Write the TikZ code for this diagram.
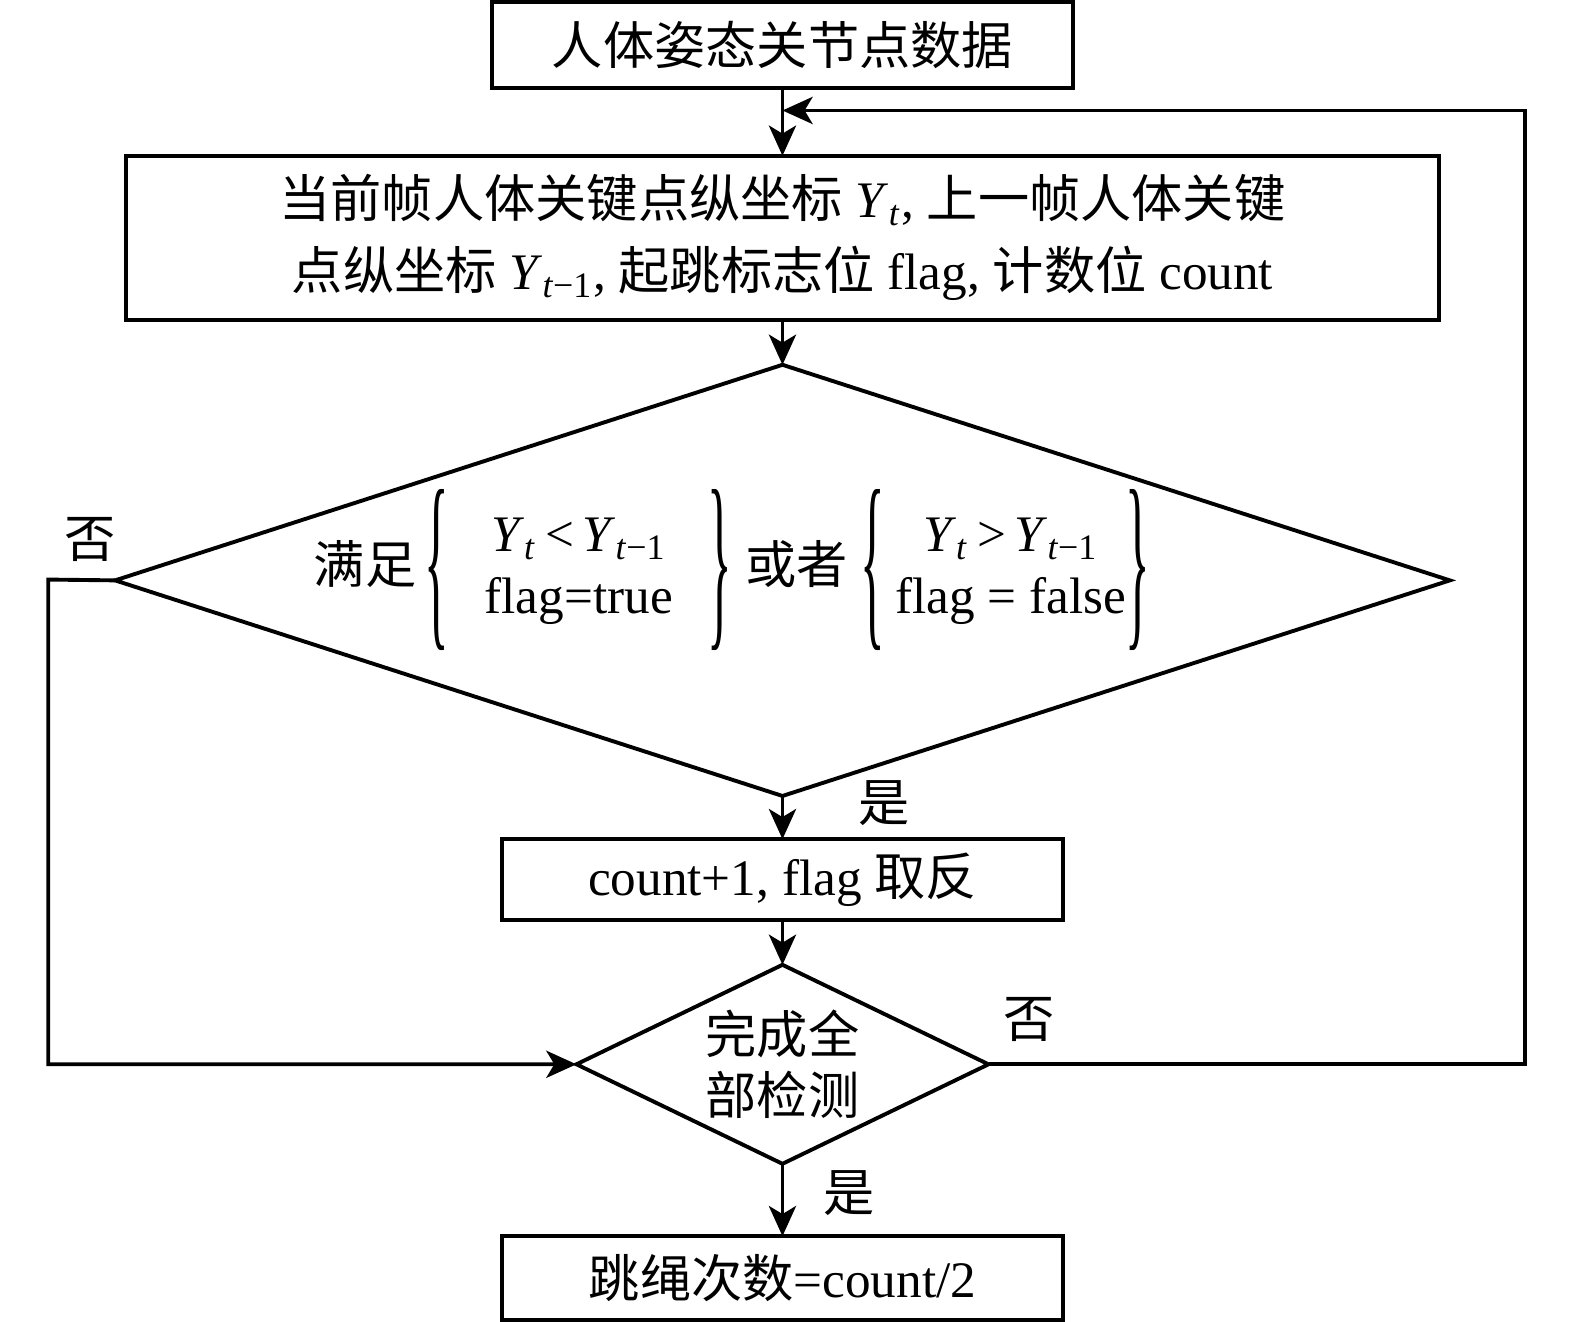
\documentclass[tikz,border=0pt]{standalone}
\usepackage{graphicx}
\usepackage{fontspec}
\setmainfont{Liberation Serif}
\newfontfamily\cjk{Noto Sans CJK SC}
\newcommand{\zh}[1]{{\cjk #1}}
\newcommand{\lbrc}{\vcenter{\hbox{\scalebox{1}[3.8]{\{}}}}
\newcommand{\rbrc}{\vcenter{\hbox{\scalebox{1}[3.8]{\}}}}}
\usetikzlibrary{positioning,shapes.geometric,arrows.meta}

\begin{document}
\begin{tikzpicture}[x=0.01cm,y=-0.01cm,line width=1.1pt,
  font=\fontsize{14.5pt}{17.5pt}\selectfont,
  box/.style={draw,rectangle,inner sep=0pt,outer sep=0pt},
  dia/.style={draw,diamond,inner sep=0pt,outer sep=0pt},
  arr/.style={-{Stealth[length=0.3cm,width=0.27cm,inset=0.08cm]}}]

  \useasboundingbox (0,0) rectangle (1568,1316);

  \node[box,minimum width=5.78cm,minimum height=0.86cm] (data) at (779,45) {\zh{人体姿态关节点数据}};

  \node[box,minimum width=13.06cm,minimum height=1.63cm,below=0.67cm of data,align=center] (read)
    {\zh{当前帧人体关键点纵坐标} \textit{Y}\textsubscript{\textit{t}}, \zh{上一帧人体关键}\\[0.1cm]
     \zh{点纵坐标} \textit{Y}\textsubscript{\textit{t}−1}, \zh{起跳标志位} flag, \zh{计数位} count};

  \node[dia,minimum width=13.28cm,minimum height=4.29cm,below=0.45cm of read] (judge) {};

  \node (cond) at ([xshift=-0.5cm,yshift=0.1cm]judge.center)
    {\zh{满足}\,$\lbrc\begin{tabular}{@{\hspace{0.35cm}}c@{\hspace{0.35cm}}}
       \textit{Y}\textsubscript{\textit{t}}\,<\,\textit{Y}\textsubscript{\textit{t}−1}\\ flag=true\end{tabular}\rbrc$
     \zh{或者} $\lbrc\begin{tabular}{@{\hspace{0.1cm}}c@{}}
       \textit{Y}\textsubscript{\textit{t}}\,>\,\textit{Y}\textsubscript{\textit{t}−1}\\ flag = false\end{tabular}\rbrc$};

  \node[box,minimum width=5.58cm,minimum height=0.80cm,below=0.43cm of judge] (count) {count+1, flag \zh{取反}};

  \node[dia,aspect=2.07,minimum width=4.10cm,minimum height=1.98cm,below=0.45cm of count,align=center] (done)
    {\zh{完成全}\\\zh{部检测}};

  \node[box,minimum width=5.58cm,minimum height=0.83cm,below=0.72cm of done] (result) {\zh{跳绳次数}=count/2};

  % yes / no labels
  \node (no1) at (90,537) {\zh{否}};
  \node (yes1) at (880,800) {\zh{是}};
  \node (no2) at (1025,1015) {\zh{否}};
  \node (yes2) at (845,1188) {\zh{是}};

  \draw[arr] (data) -- (read);
  \draw[arr] (read) -- (judge);
  \draw[arr] (judge) -- (count);
  \draw[arr] (count) -- (done);
  \draw[arr] (done) -- (result);

  % loops back
  \coordinate (lft) at (48,577);
  \coordinate (rgt) at (1518,110);
  \draw[arr] (judge.west) -- (lft) |- (done.west);
  \draw[arr] (done.east) -| (rgt) -- (rgt -| data.south);

\end{tikzpicture}
\end{document}
